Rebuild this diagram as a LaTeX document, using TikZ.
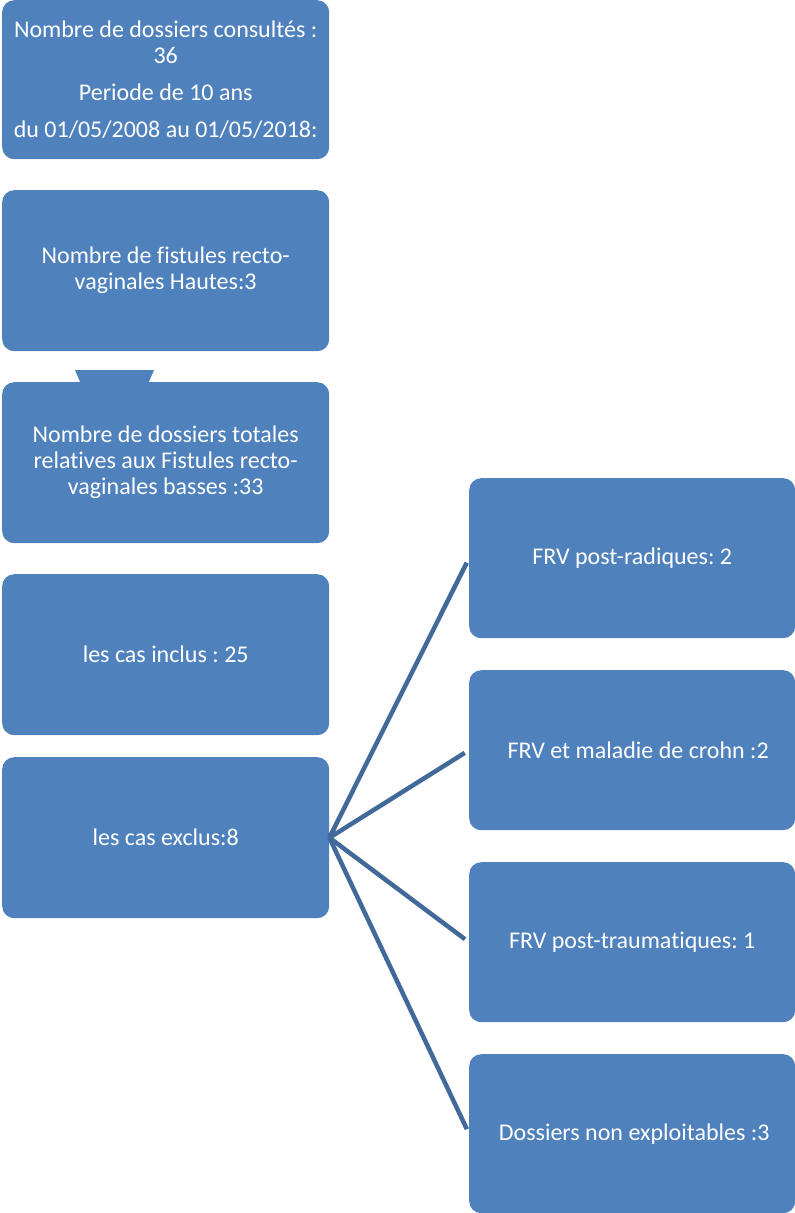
\documentclass[tikz,border=0pt]{standalone}
\usepackage{fontspec}
\setmainfont{Carlito}[Ligatures=NoCommon]
\frenchspacing
\begin{document}
\begin{tikzpicture}[x=1pt,y=1pt]
\definecolor{boxblue}{HTML}{4F81BD}
\definecolor{lineblue}{HTML}{41699A}
\tikzset{
  box/.style={fill=boxblue, rounded corners=12pt, minimum width=327pt, minimum height=160pt,
    text=white, font=\fontsize{24}{26}\selectfont, align=center, inner sep=0pt, anchor=north west},
  conn/.style={draw=lineblue, line width=4.5pt, shorten >=5pt}
}
\useasboundingbox (0,0) rectangle (795,-1213);
\node[box, minimum height=159pt] (b1) at (2,0) {Nombre de dossiers consultés :\\36\\[11pt]Periode de 10 ans\\[11pt]du 01/05/2008 au 01/05/2018:};
\node[box, minimum height=161pt] (b2) at (2,-190) {Nombre de fistules recto-\\vaginales Hautes:3};
\node[box, minimum height=161pt] (b3) at (2,-382) {Nombre de dossiers totales\\relatives aux Fistules recto-\\vaginales basses :33};
\fill[boxblue] ([shift={(73,12)}]b3.north west) -- ([shift={(152,12)}]b3.north west) -- ([shift={(146,-2)}]b3.north west) -- ([shift={(79,-2)}]b3.north west) -- cycle;
\node[box, minimum height=161pt] (b4) at (2,-574) {les cas inclus : 25};
\node[box, minimum height=161pt] (b5) at (2,-757) {les cas exclus:8};
\node[box, minimum width=326pt] (r1) at (469,-478) {FRV post-radiques: 2};
\node[box, minimum width=326pt] (r2) at (469,-670) {\hspace*{12pt}FRV et maladie de crohn :2};
\node[box, minimum width=326pt] (r3) at (469,-862) {FRV post-traumatiques: 1};
\node[box, minimum width=326pt, minimum height=159pt] (r4) at (469,-1054) {\hspace*{4pt}Dossiers non exploitables :3};
\draw[conn] (b5.east) -- (r1.west);
\draw[conn] (b5.east) -- (r2.west);
\draw[conn] (b5.east) -- (r3.west);
\draw[conn] (b5.east) -- (r4.west);
\end{tikzpicture}
\end{document}
